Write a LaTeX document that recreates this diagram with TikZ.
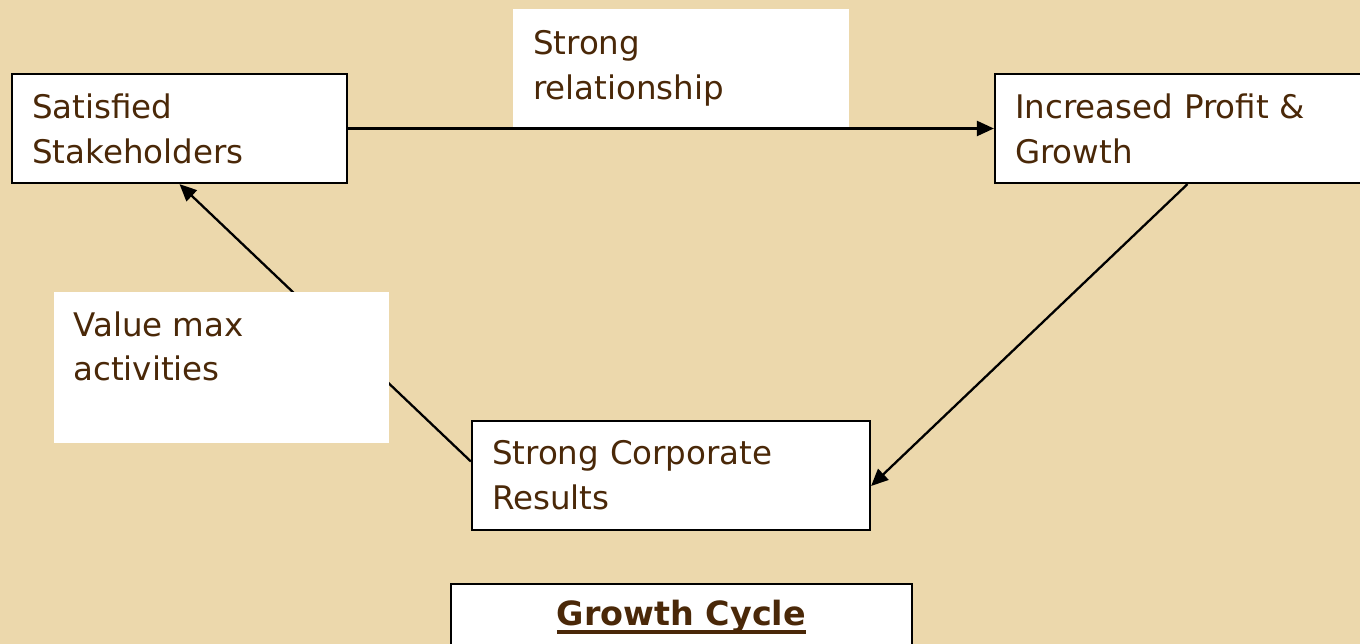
\documentclass[tikz,border=0pt]{standalone}
\usepackage{fontspec}
\setmainfont{DejaVu Sans}
\usetikzlibrary{arrows.meta}
\definecolor{parch}{RGB}{236,216,172}
\definecolor{inkbrown}{RGB}{74,40,8}
\newcommand{\ulthick}[1]{\setbox0\hbox{#1}\rlap{\rule[-4.5pt]{\wd0}{2.2pt}}\box0}
\begin{document}
\begin{tikzpicture}[x=0.02cm, y=-0.02cm, >={Triangle[length=0.34cm,width=0.3cm]}]
			\useasboundingbox (0,0) rectangle (1360,644);
			\fill[parch] (0,0) rectangle (1360,644);
			\clip (0,0) rectangle (1360,644);
			
			\begin{scope}[every node/.style={text=inkbrown,font=\fontsize{18.5pt}{25.5pt}\selectfont,inner xsep=0.4cm,align=left}]
			\node[draw,fill=white,line width=1.3pt,minimum width=6.7cm,minimum height=2.18cm,text width=5.9cm]	(sat) at (179.5, 128.5) 	{Satisfied\\Stakeholders};
			\node[draw,fill=white,line width=1.3pt,minimum width=7.7cm,minimum height=2.18cm,text width=6.9cm]	(profit) at (1187.5, 128.5) 	{Increased Profit \&\\Growth};
			\node[draw,fill=white,line width=1.3pt,minimum width=7.96cm,minimum height=2.18cm,text width=7.16cm]	(results) at (671, 475.5) 	{Strong Corporate\\Results};
			\node[draw,fill=white,line width=1.3pt,minimum width=9.22cm,minimum height=1.32cm,align=center,font=\fontsize{19pt}{25.5pt}\bfseries]	(growth) at (681.5, 617) 	{\ulthick{Growth Cycle}};
			\end{scope}
			
			\path [->,line width=1.3pt] (sat) edge (profit);
			\path [->,line width=1.3pt] (profit.south) edge (results.-3);
			\path [->,line width=1.3pt] (results.176) edge (sat.south);
			
			\begin{scope}[every node/.style={text=inkbrown,font=\fontsize{18.5pt}{25.5pt}\selectfont,align=left}]
			\node[fill=white,inner xsep=0.4cm,minimum width=6.72cm,minimum height=2.36cm,text width=5.92cm]	(rel) at (681, 68) 	{Strong\\relationship};
			\node[fill=white,minimum width=6.7cm,minimum height=3.02cm]	(valuebox) at (221.5, 367.5) 	{};
			\node[anchor=north west,inner sep=0pt]	(value) at (73, 311) 	{Value max\\activities};
			\end{scope}
\end{tikzpicture}
\end{document}
